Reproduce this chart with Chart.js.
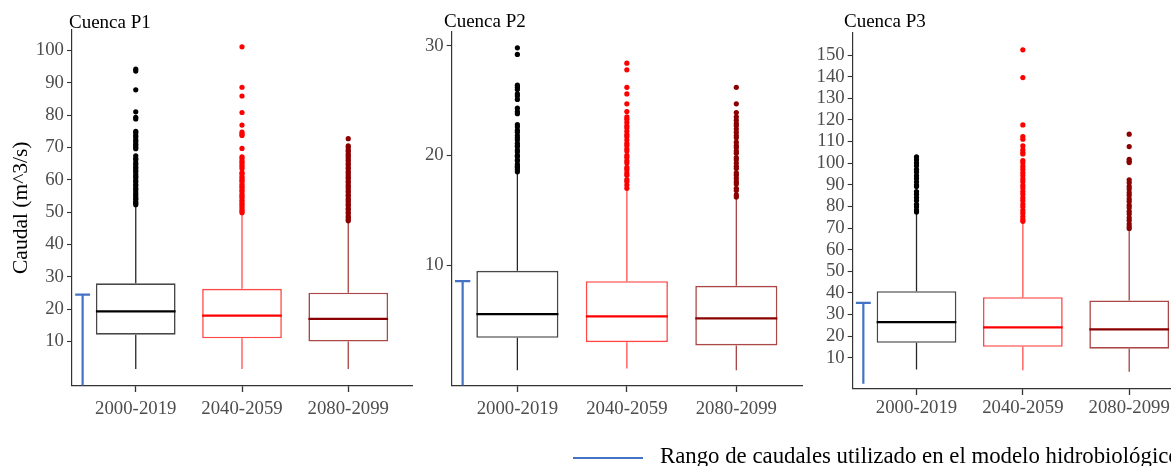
<!DOCTYPE html>
<html>
<head>
<meta charset="utf-8">
<script src="https://cdn.jsdelivr.net/npm/chart.js@4.4.0/dist/chart.umd.min.js"></script>
<style>
  html, body { margin: 0; padding: 0; background: #fff; width: 1171px; height: 466px; overflow: hidden; }
  #wrap { position: relative; width: 1171px; height: 466px; overflow: hidden; }
  #wrap canvas { position: absolute; top: 0; }
  .ttl { position: absolute; font-family: "Liberation Serif", serif; font-size: 19px; line-height: 19px; color: #000; white-space: nowrap; }
  #legendKey { position: absolute; left: 573px; top: 456.7px; width: 70px; height: 2px; background: #4472C4; }
  #legendText { position: absolute; left: 660px; top: 444.5px; font-family: "Liberation Serif", serif; font-size: 22.8px; line-height: 22.8px; color: #000; white-space: nowrap; }
</style>
</head>
<body>
<div id="wrap">
  <canvas id="c1" width="416" height="466" style="left:0px"></canvas>
  <canvas id="c2" width="406" height="466" style="left:400px"></canvas>
  <canvas id="c3" width="397" height="466" style="left:800px"></canvas>
  <div class="ttl" style="left:69px;top:11.6px">Cuenca P1</div>
  <div class="ttl" style="left:444px;top:11.4px">Cuenca P2</div>
  <div class="ttl" style="left:844px;top:11.4px">Cuenca P3</div>
  <div id="legendKey"></div>
  <div id="legendText">Rango de caudales utilizado en el modelo hidrobiológico</div>
</div>
<script>
// Periods (x categories)
const periods = ['2000-2019', '2040-2059', '2080-2099'];

// ---- Cuenca P1 (m^3/s) ----
const p1Q1 = [12.1, 11.0, 10.0];
const p1Median = [19.3, 18.0, 17.0];
const p1Q3 = [28.0, 26.3, 25.1];
const p1WhiskerLow = [1.5, 1.5, 1.5];
const p1WhiskerHigh = [51.8, 49.5, 47.0];
const p1Outliers = [
  [94.2, 93.6, 87.8, 81.0, 79.3, 78.8, 75.0, 74.5, 73.7, 73.2, 72.4, 71.9, 71.1, 70.7, 70.0, 69.6,
   67.4, 66.6, 66.2, 65.3, 64.8, 64.0, 63.5, 62.8, 62.4, 61.6, 61.0, 60.6, 59.8, 59.3, 58.5, 58.1,
   57.3, 56.9, 56.2, 55.6, 55.0, 54.3, 53.9, 53.2, 52.8, 52.3],
  [101.1, 88.6, 85.9, 80.8, 76.9, 74.7, 74.1, 73.7, 69.7, 67.1, 66.6, 65.8, 65.3, 64.6, 64.0, 63.4,
   62.2, 61.8, 61.0, 60.5, 59.8, 59.4, 58.6, 58.0, 57.5, 56.8, 56.4, 55.6, 55.0, 54.6, 53.8, 53.3,
   52.6, 52.2, 51.5, 50.8, 50.3, 49.8],
  [72.7, 70.5, 70.0, 69.2, 68.8, 68.0, 67.5, 66.9, 66.2, 65.8, 65.0, 64.6, 63.8, 63.4, 62.6, 62.1,
   61.5, 60.8, 60.4, 59.6, 59.2, 58.4, 57.9, 57.3, 56.6, 56.2, 55.4, 55.0, 54.2, 53.7, 53.1, 52.4,
   52.0, 51.2, 50.8, 50.0, 49.6, 48.8, 48.3, 47.7, 47.3]
];
const p1Range = [-4.0, 24.5];
const p1Ticks = [10, 20, 30, 40, 50, 60, 70, 80, 90, 100];

// ---- Cuenca P2 (m^3/s) ----
const p2Q1 = [3.37, 2.98, 2.68];
const p2Median = [5.53, 5.32, 5.14];
const p2Q3 = [9.48, 8.54, 8.11];
const p2WhiskerLow = [0.43, 0.58, 0.43];
const p2WhiskerHigh = [18.4, 16.9, 16.1];
const p2Outliers = [
  [29.8, 29.2, 26.4, 26.2, 26.0, 25.6, 25.4, 25.1, 24.3, 24.0, 23.8, 22.8, 22.6, 22.3, 22.1, 21.8,
   21.6, 21.4, 21.1, 20.9, 20.8, 20.5, 20.3, 20.0, 19.9, 19.6, 19.5, 19.2, 19.0, 18.9, 18.7, 18.5],
  [28.4, 27.8, 26.2, 25.6, 24.7, 24.0, 23.5, 23.3, 23.0, 22.7, 22.5, 22.2, 21.9, 21.7, 21.4, 21.1,
   20.9, 20.6, 20.4, 20.0, 19.8, 19.5, 19.3, 18.9, 18.7, 18.4, 18.2, 17.8, 17.6, 17.3, 17.0],
  [26.2, 24.7, 23.9, 23.5, 23.2, 22.9, 22.7, 22.4, 22.1, 21.8, 21.6, 21.2, 20.9, 20.7, 20.4, 20.2,
   19.8, 19.6, 19.3, 19.0, 18.8, 18.4, 18.2, 17.9, 17.6, 17.4, 17.0, 16.8, 16.4, 16.2]
];
const p2Range = [-1.0, 8.55];
const p2Ticks = [10, 20, 30];

// ---- Cuenca P3 (m^3/s) ----
const p3Q1 = [16.9, 15.1, 14.2];
const p3Median = [26.5, 24.1, 23.1];
const p3Q3 = [40.8, 38.0, 36.5];
const p3WhiskerLow = [4.6, 4.2, 3.6];
const p3WhiskerHigh = [77.0, 72.6, 69.3];
const p3Outliers = [
  [102.9, 101.6, 100.1, 98.8, 97.2, 95.9, 94.2, 92.9, 91.4, 89.9, 89.2, 86.9, 85.6, 84.1, 82.7,
   81.0, 79.8, 78.3, 77.4],
  [152.4, 139.6, 117.7, 112.3, 111.1, 108.0, 106.2, 105.0, 104.3, 101.2, 100.1, 98.5, 97.2, 95.6,
   94.3, 92.7, 91.4, 89.8, 88.5, 86.9, 85.6, 84.0, 82.7, 81.1, 79.8, 78.2, 76.9, 75.3, 74.0, 73.1],
  [113.4, 107.7, 101.8, 100.9, 100.3, 92.3, 91.0, 89.3, 88.1, 86.4, 85.2, 83.5, 82.3, 80.6, 79.4,
   77.7, 76.5, 74.8, 73.6, 71.9, 70.7, 69.8]
];
const p3Range = [-2.0, 35.4];
const p3Ticks = [10, 20, 30, 40, 50, 60, 70, 80, 90, 100, 110, 120, 130, 140, 150];

// Colours per period
const periodColors = ['#000000', '#FF0000', '#8B0000'];
const boxColors = ['rgba(0,0,0,0.72)', 'rgba(255,0,0,0.72)', 'rgba(139,0,0,0.72)'];
const whiskerColors = ['rgba(0,0,0,0.85)', 'rgba(255,0,0,0.7)', 'rgba(139,0,0,0.75)'];
const rangeColor = '#4472C4';

Chart.defaults.font.family = '"Liberation Serif", serif';
Chart.defaults.animation = false;

const BOX_HALF = 0.375;
const CAP_HALF = 0.07;

function buildPanel(id, p) {
  const datasets = [];
  periods.forEach((name, i) => {
    const x = i + 1;
    // whiskers (split at the box)
    datasets.push({
      type: 'line', order: 5,
      data: [{x, y: p.low[i]}, {x, y: p.q1[i]}, {x, y: null}, {x, y: p.q3[i]}, {x, y: p.high[i]}],
      borderColor: whiskerColors[i], borderWidth: 1.3, pointRadius: 0, spanGaps: false
    });
    // outliers
    datasets.push({
      type: 'scatter', order: 4,
      data: p.outliers[i].map(v => ({x, y: v})),
      backgroundColor: periodColors[i], borderColor: periodColors[i],
      pointRadius: 2.6, borderWidth: 0
    });
    // median
    datasets.push({
      type: 'line', order: 1,
      data: [{x: x - BOX_HALF, y: p.median[i]}, {x: x + BOX_HALF, y: p.median[i]}],
      borderColor: periodColors[i], borderWidth: 2.2, pointRadius: 0
    });
  });
  // boxes (interquartile range)
  datasets.push({
    type: 'bar', order: 2,
    data: periods.map((name, i) => ({x: i + 1, y: [p.q1[i], p.q3[i]]})),
    backgroundColor: '#ffffff', borderColor: boxColors, borderWidth: 1.6,
    borderSkipped: false, categoryPercentage: 1, barPercentage: 2 * BOX_HALF
  });
  // flow range used in the hydrobiological model
  datasets.push({
    type: 'line', order: 0,
    data: [{x: 0.5, y: p.range[0]}, {x: 0.5, y: p.range[1]}, {x: 0.5, y: null},
           {x: 0.5 - CAP_HALF, y: p.range[1]}, {x: 0.5 + CAP_HALF, y: p.range[1]}],
    borderColor: rangeColor, borderWidth: 2.2, pointRadius: 0, spanGaps: false
  });

  const tickFont = {family: '"Liberation Serif", serif', size: 18.8};
  return new Chart(document.getElementById(id), {
    type: 'scatter',
    data: {datasets},
    options: {
      responsive: false,
      devicePixelRatio: 1,
      animation: false,
      layout: {padding: {top: p.top, bottom: 466 - p.bottom - 40, left: 0, right: 0}},
      plugins: {legend: {display: false}, tooltip: {enabled: false}, title: {display: false}},
      scales: {
        x: {
          type: 'linear', min: 0.4, max: 3.6, offset: false,
          afterBuildTicks: s => { s.ticks = periods.map((n, i) => ({value: i + 1})); },
          afterFit: s => { s.height = 40; },
          ticks: {
            callback: v => periods[Math.round(v) - 1] || '',
            autoSkip: false, maxRotation: 0, minRotation: 0,
            color: '#4D4D4D', font: tickFont, padding: p.xPad
          },
          grid: {display: true, offset: false, drawOnChartArea: false, drawTicks: true, tickLength: 6.5,
                 color: '#333', tickColor: '#333', tickWidth: 1.3},
          border: {display: true, color: '#333', width: 1.2}
        },
        y: {
          type: 'linear', min: p.min, max: p.max, offset: false,
          afterBuildTicks: s => { s.ticks = p.ticks.map(v => ({value: v})); },
          afterFit: s => { s.width = p.yWidth; },
          ticks: {color: '#4D4D4D', font: tickFont, padding: 3, autoSkip: false},
          grid: {display: true, offset: false, drawOnChartArea: false, drawTicks: true, tickLength: 5,
                 color: '#333', tickColor: '#333', tickWidth: 1.1},
          border: {display: true, color: '#333', width: 1.2},
          title: p.yTitle ? {
            display: true, text: p.yTitle, color: '#000',
            font: {family: '"Liberation Serif", serif', size: 21.5},
            padding: {top: 8, bottom: 0}
          } : {display: false}
        }
      }
    }
  });
}

buildPanel('c1', {
  q1: p1Q1, median: p1Median, q3: p1Q3, low: p1WhiskerLow, high: p1WhiskerHigh,
  outliers: p1Outliers, range: p1Range, ticks: p1Ticks,
  min: -3.6, max: 106.3, top: 30, bottom: 385.5, yWidth: 72, xPad: 6, yTitle: 'Caudal (m^3/s)'
});
buildPanel('c2', {
  q1: p2Q1, median: p2Median, q3: p2Q3, low: p2WhiskerLow, high: p2WhiskerHigh,
  outliers: p2Outliers, range: p2Range, ticks: p2Ticks,
  min: -0.97, max: 31.27, top: 31.7, bottom: 385.5, yWidth: 51.7, xPad: 6
});
buildPanel('c3', {
  q1: p3Q1, median: p3Median, q3: p3Q3, low: p3WhiskerLow, high: p3WhiskerHigh,
  outliers: p3Outliers, range: p3Range, ticks: p3Ticks,
  min: -4.2, max: 160.2, top: 33, bottom: 388.5, yWidth: 52.7, xPad: 2
});
</script>
</body>
</html>
